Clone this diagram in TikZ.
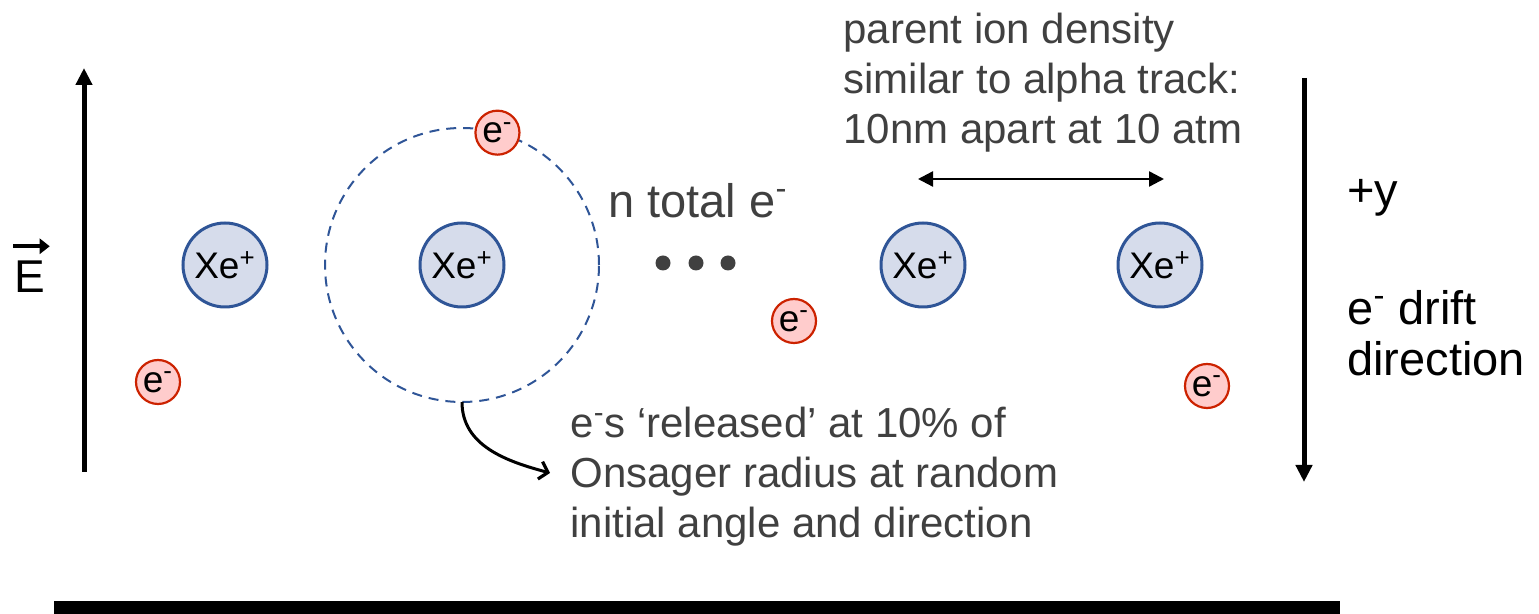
\documentclass[tikz,border=0pt]{standalone}
\usepackage{fontspec}
\setmainfont{Liberation Sans}
\usepackage{xcolor}
\usepackage{tikz}
\usetikzlibrary{arrows.meta, positioning, calc}

\definecolor{ionblue}{HTML}{2F5597}
\definecolor{ionfill}{HTML}{D6DCEB}
\definecolor{elered}{HTML}{CC2200}
\definecolor{elefill}{HTML}{FFCCCC}
\definecolor{notegray}{HTML}{404040}

\begin{document}
\begin{tikzpicture}[x=0.5pt, y=0.5pt,
    ion/.style={circle, draw=ionblue, fill=ionfill, line width=1.5pt, minimum size=42pt,
                inner sep=0pt, font=\fontsize{18.5}{20}\selectfont},
    ele/.style={circle, draw=elered, fill=elefill, line width=1.1pt, minimum size=22pt,
                inner sep=0pt, font=\fontsize{18.5}{20}\selectfont},
    note/.style={text=notegray, align=left, inner sep=0pt, font=\fontsize{21}{25}\selectfont},
    lab/.style={align=left, inner sep=0pt, font=\fontsize{23.5}{25.5}\selectfont},
    big/.style={-{Triangle[length=8.5pt, width=8pt]}, line width=2.5pt},
    dbl/.style={{Triangle[length=7.5pt, width=7.5pt]}-{Triangle[length=7.5pt, width=7.5pt]}, line width=1.2pt},
    orbit/.style={ionblue, dashed, dash pattern=on 5pt off 3.5pt, line width=1pt},
    curv/.style={-{Straight Barb[length=4pt, width=9pt, line width=1.6pt]}, line width=1.5pt}]
  \useasboundingbox (0,0) rectangle (1539,-614);

  % field and drift arrows
  \coordinate (Ebot) at (84,-472);
  \coordinate (Etop) at (84,-68);
  \draw[big] (Ebot) -- (Etop);
  \node[inner sep=0pt, font=\fontsize{23}{25}\selectfont] (E) at (30,-276.5) {E};
  \draw[-{Triangle[length=5pt, width=7.5pt]}, line width=2pt]
    ([xshift=-0.5pt, yshift=7pt]E.north west) -- ([xshift=2pt, yshift=7pt]E.north east);
  \coordinate (ytop) at (1304,-78);
  \coordinate (ybot) at (1304,-482);
  \draw[big] (ytop) -- (ybot);

  % ions
  \node[ion] (ion1) at (225,-265) {Xe\textsuperscript{+}};
  \node[ion] (ion2) at (462,-265) {Xe\textsuperscript{+}};
  \node[ion] (ion3) at (923,-265) {Xe\textsuperscript{+}};
  \node[ion] (ion4) at (1160,-265) {Xe\textsuperscript{+}};
  \draw[orbit] (ion2) circle[radius=68.5pt];

  % electrons
  \node[ele] (e1) at (158,-382) {e\textsuperscript{-}};
  \node[ele] (e2) at ($(ion2)+(75:68.5pt)$) {e\textsuperscript{-}};
  \node[ele] (e3) at (794,-321) {e\textsuperscript{-}};
  \node[ele] (e4) at (1207,-386) {e\textsuperscript{-}};

  \foreach \x in {663,696,728}
    \fill[notegray] (\x,-263) circle (3.75pt);

  % notes
  \node[note, anchor=north west] (density) at (843,-13)
    {parent ion density\\similar to alpha track:\\10nm apart at 10 atm};
  \draw[dbl] ([xshift=-2.5pt, yshift=21.25pt]ion3.north) -- ([xshift=2pt, yshift=21.25pt]ion4.north);
  \node[note, anchor=base west, font=\fontsize{23.5}{27.5}\selectfont] (ntotal) at (608,-218)
    {n total e\textsuperscript{-}};
  \node[note, anchor=north west] (released) at (570,-407)
    {e\textsuperscript{-}s ‘released’ at 10\% of\\Onsager radius at random\\initial angle and direction};
  \coordinate (orbitbot) at ($(ion2)+(0,-68.5pt)$);
  \draw[curv] (orbitbot) to[out=-90, in=165] ([xshift=-10pt, yshift=2pt]released.west);
  \node[lab, anchor=base west] (plusy) at (1347,-207) {+y};
  \node[lab, anchor=north west] (drift) at (1347,-290) {e\textsuperscript{-} drift\\direction};

  % electrode
  \fill (54,-601) rectangle (1340,-614);
\end{tikzpicture}
\end{document}
